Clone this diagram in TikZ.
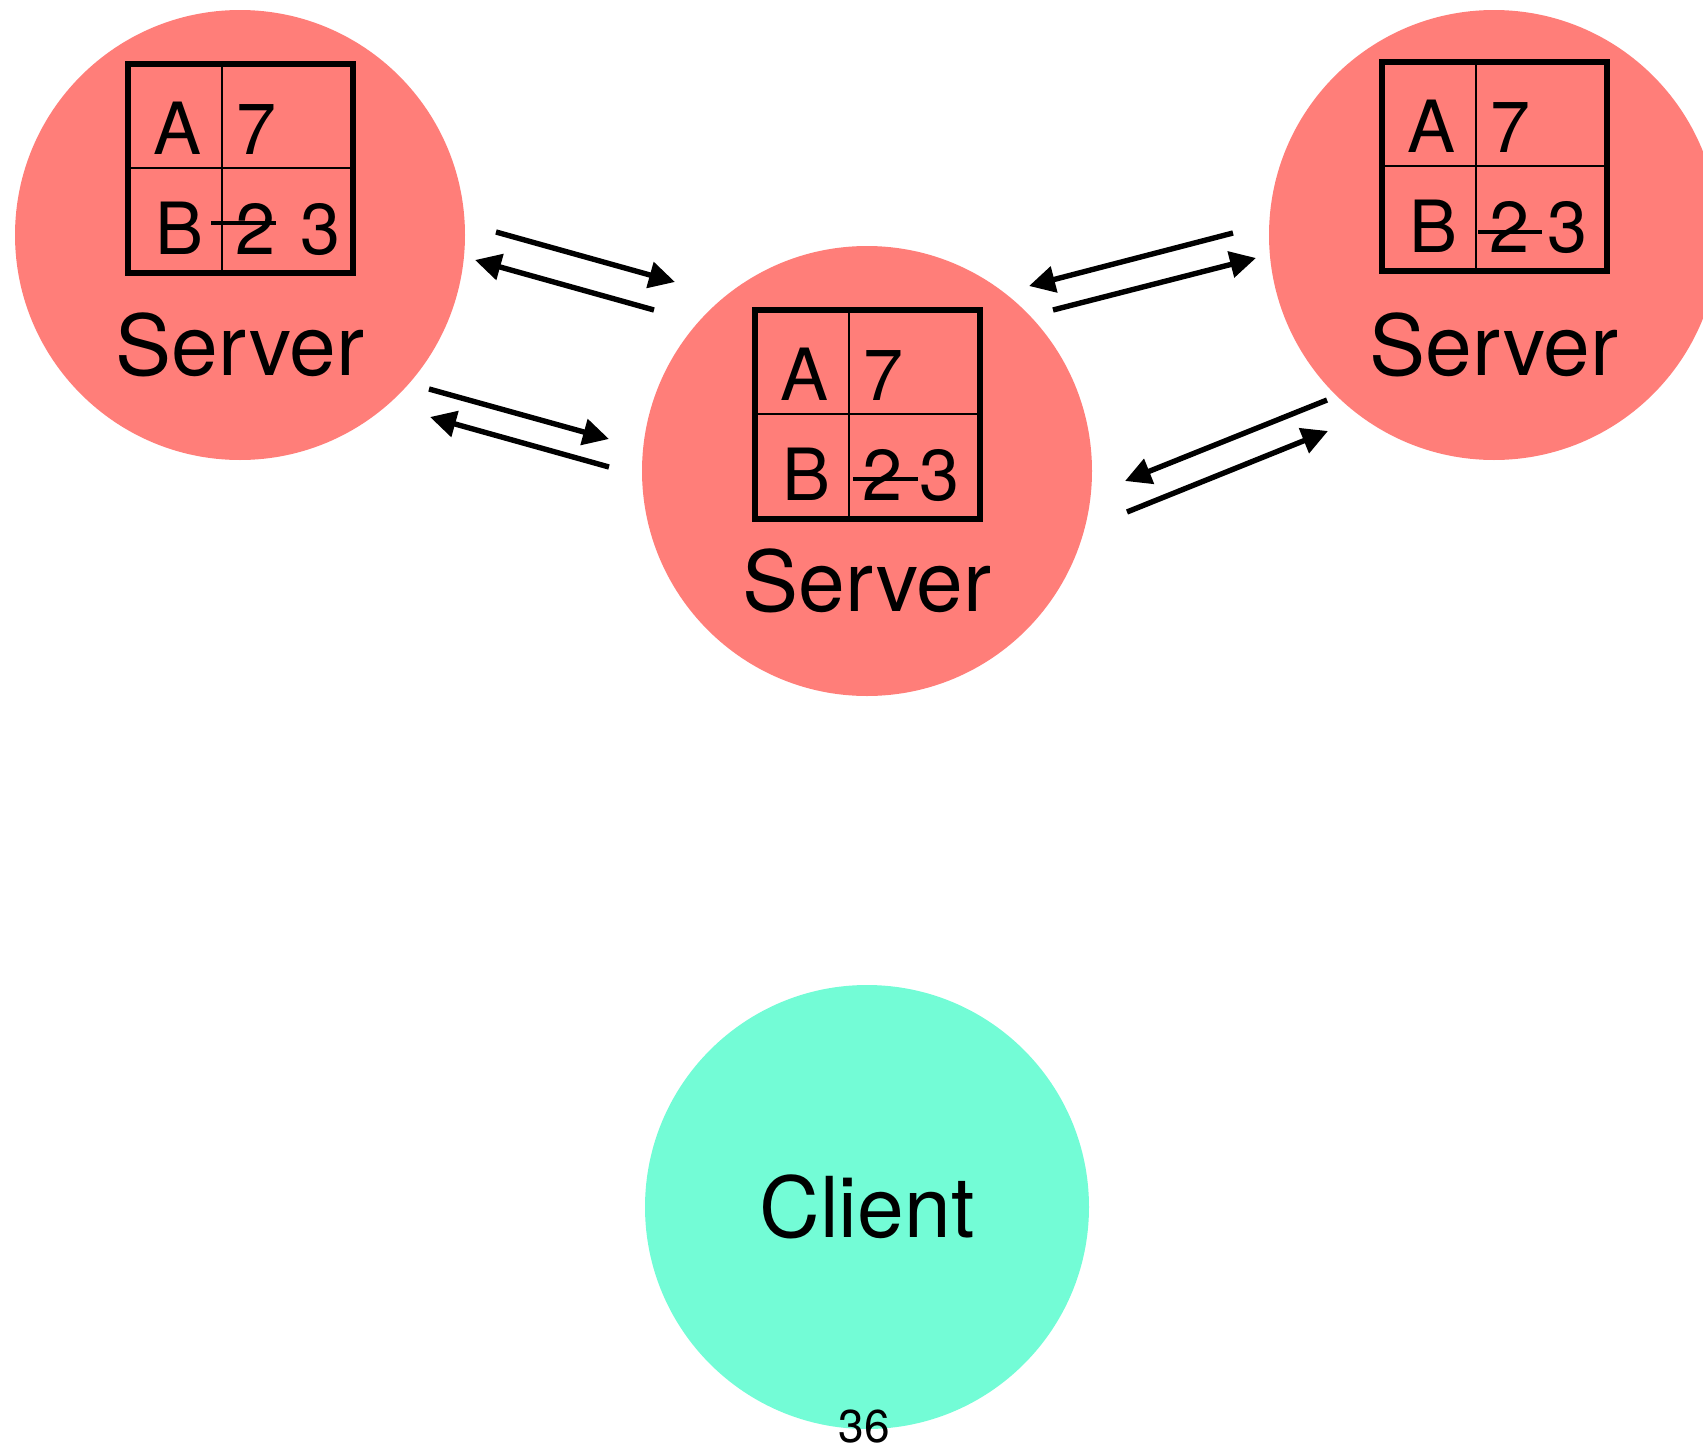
\documentclass[tikz,border=0pt]{standalone}
\usepackage{fontspec}
\setmainfont{TeX Gyre Heros}
\usetikzlibrary{arrows.meta}
\definecolor{salmon}{HTML}{FF7E79}
\definecolor{seafoam}{HTML}{73FCD6}

\begin{document}
\begin{tikzpicture}[x=0.5pt, y=-0.5pt, >={Triangle[length=13pt, width=13pt]},
	server/.style={circle, fill=salmon, minimum size=225pt, inner sep=0pt},
	client/.style={circle, fill=seafoam, minimum size=222pt, inner sep=0pt, font=\fontsize{42}{42}\selectfont},
	label/.style={font=\fontsize{42}{42}\selectfont, inner sep=0pt, anchor=base},
	cell/.style={font=\fontsize{36}{36}\selectfont, inner sep=0pt, anchor=base west},
	msg/.style={->, line width=2.7pt}]
	\useasboundingbox (0,0) rectangle (1703,1451);
	% the three replicas and the client
	\node[server] (left) at (240,235) {};
	\node[server] (mid) at (867,471) {};
	\node[server] (right) at (1494,235) {};
	\node[client] (client) at (867,1207) {Client};
	\node[label] (left-name) at (240,375) {Server};
	\node[label] (mid-name) at (867,611) {Server};
	\node[label] (right-name) at (1494,375) {Server};
	% key/value table of each replica
	\foreach \nm/\tx/\ty/\sa/\sb/\sy/\tc in {left/128/64/-11/54/159/78, mid/755/310/4/69/169/70, right/1382/62/2/66/170/71} {
		\begin{scope}[shift={(\tx,\ty)}]
			\draw[line width=1.4pt] (94,0) -- (94,209) (0,104) -- (225,104);
			\draw[line width=2.6pt] (0,0) rectangle (225,209);
			\node[cell] (\nm-key1) at (25,90) {A};
			\node[cell] (\nm-val1) at (108,90) {7};
			\node[cell] (\nm-key2) at (27,190) {B};
			\node[cell] (\nm-old) at (107,190) {2};
			\node[cell] (\nm-new) at (94+\tc,190) {3};
			\draw[line width=1.7pt] (94+\sa,\sy) -- (94+\sb,\sy);
		\end{scope}
	}
	% messages between the replicas
	\foreach \nm/\xa/\ya/\xb/\yb in {lm1/496/232/675/282, lm2/654/310/475/260, lm3/429/389/609/439, lm4/609/467/430/417,
		mr1/1233/233/1029/286, mr2/1053/310/1256/258, mr3/1327/400/1125/481, mr4/1127/512/1328/431} {
		\coordinate (\nm-from) at (\xa,\ya);
		\coordinate (\nm-to) at (\xb,\yb);
		\draw[msg] (\nm-from) -- (\nm-to);
	}
	\node[font=\fontsize{23}{23}\selectfont, inner sep=0pt, anchor=base] (page) at (864,1442) {36};
\end{tikzpicture}
\end{document}
